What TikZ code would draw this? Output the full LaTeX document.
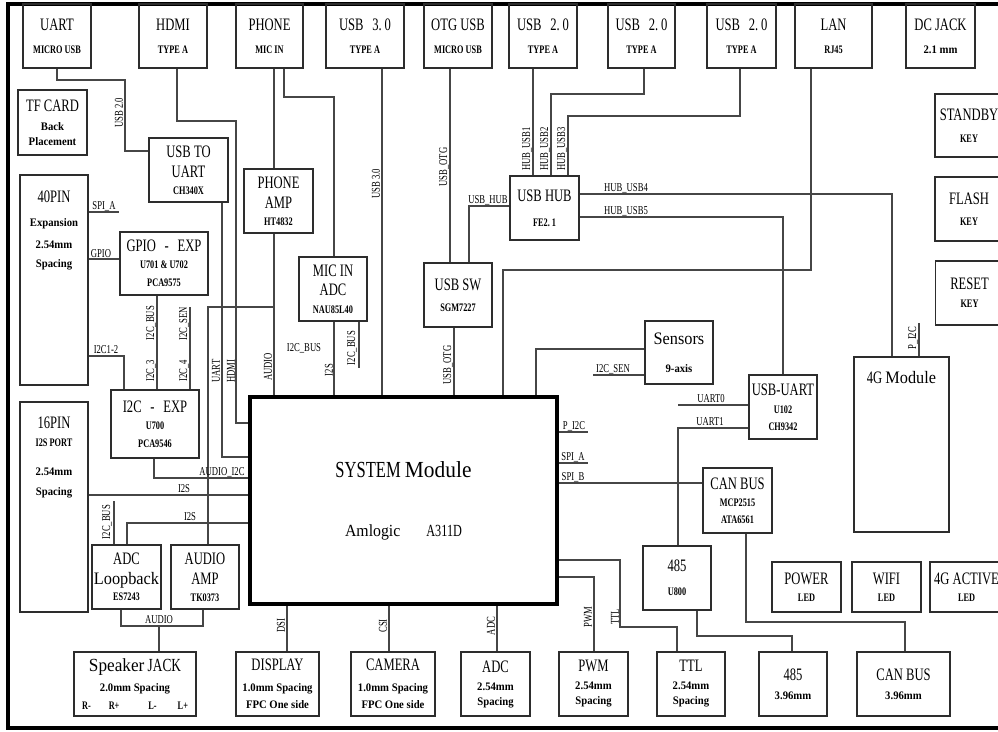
\documentclass[tikz,border=0pt]{standalone}
\usepackage{fontspec}
\setmainfont{Liberation Serif}[FakeStretch=0.72]
\newfontfamily\lcfont{Liberation Serif}[FakeStretch=0.93]
\usetikzlibrary{positioning}
\definecolor{edge}{RGB}{45,45,45}
\definecolor{wirec}{RGB}{70,70,70}
\newcommand\bigtxt{\fontsize{17.5}{19}\selectfont\mdseries}
\newcommand\smtxt{\fontsize{11.5}{13}\selectfont\bfseries}
\newcommand\lbltxt{\fontsize{12}{13}\selectfont}

\begin{document}
\begin{tikzpicture}[
  x=1pt, y=-1pt,
  blk/.style={draw=edge, line width=1.6pt, align=center, inner sep=1pt,
              font=\smtxt},
  topbox/.style={blk, minimum width=68pt, minimum height=64pt},
  midbox/.style={blk, minimum width=68pt, minimum height=64pt},
  ledbox/.style={blk, minimum width=69pt, minimum height=50pt},
  botbox/.style={blk, minimum width=69pt, minimum height=64pt},
  txt/.style={align=center, inner sep=1pt, font=\smtxt},
  lbl/.style={font=\lbltxt, inner sep=0.5pt},
  wire/.style={draw=wirec, line width=1.3pt}
]
\useasboundingbox (0,0) rectangle (998,731);
\clip (0,0) rectangle (998,731);
\fill[white] (0,0) rectangle (998,731);
\draw[line width=3.5pt] (8,4) rectangle (1010,728);

% top connectors
\node[topbox] (uart) at (57,36) {{\bigtxt UART}\\[10pt]MICRO USB};
\node[topbox] (hdmi) at (173,36) {{\bigtxt HDMI}\\[10pt]TYPE A};
\node[topbox, minimum width=67pt] (phone) at (269.5,36) {{\bigtxt PHONE}\\[10pt]MIC IN};
\node[topbox, minimum width=78pt] (usb30) at (365,36) {{\bigtxt USB\enspace3.\,0}\\[10pt]TYPE A};
\node[topbox] (otg) at (458,36) {{\bigtxt OTG USB}\\[10pt]MICRO USB};
\node[topbox] (usba) at (543,36) {{\bigtxt USB\enspace2.\,0}\\[10pt]TYPE A};
\node[topbox, minimum width=67pt] (usbb) at (641.5,36) {{\bigtxt USB\enspace2.\,0}\\[10pt]TYPE A};
\node[topbox, minimum width=69pt] (usbc) at (741.5,36) {{\bigtxt USB\enspace2.\,0}\\[10pt]TYPE A};
\node[topbox, minimum width=77pt] (lan) at (833.5,36) {{\bigtxt LAN}\\[10pt]RJ45};
\node[topbox, minimum width=69pt] (dcjack) at (940.5,36) {{\bigtxt DC JACK}\\[10pt]{\lcfont 2.1 mm}};

% keys
\node[midbox, minimum height=63pt] (standby) at (969,125.5) {{\bigtxt STANDBY}\\[9pt]KEY};
\node[midbox] (flash) at (969,209) {{\bigtxt FLASH}\\[8pt]KEY};
\node[midbox] (reset) at (969.5,293) {{\bigtxt RESET}\\[5pt]KEY};

% left side
\node[blk, minimum width=69pt, minimum height=65pt] (tfcard) at (52.5,122.5)
  {{\bigtxt TF CARD}\\[6pt]{\lcfont Back}\\[2pt]{\lcfont Placement}};
\node[blk, minimum width=68pt, minimum height=210pt] (pin40) at (54,280) {};
\node[txt, anchor=north] (pin40txt) at (54,190)
  {{\bigtxt 40PIN}\\[11pt]{\lcfont Expansion}\\[9pt]{\lcfont 2.54mm}\\[6pt]{\lcfont Spacing}};
\node[blk, minimum width=68pt, minimum height=210pt] (pin16) at (54,507) {};
\node[txt, anchor=north] (pin16txt) at (54,416)
  {{\bigtxt 16PIN}\\[5pt]I2S PORT\\[16pt]{\lcfont 2.54mm}\\[7pt]{\lcfont Spacing}};

\node[midbox, minimum width=79pt] (usbtouart) at (188.5,170)
  {{\bigtxt USB TO}\\[7pt]{\bigtxt UART}\\[4pt]CH340X};
\node[midbox, minimum width=69pt] (phoneamp) at (278.5,201)
  {{\bigtxt PHONE}\\[7pt]{\bigtxt AMP}\\[4pt]HT4832};
\node[midbox, minimum width=88pt, minimum height=63pt] (gpioexp) at (164,263.5)
  {{\bigtxt GPIO\enspace-\enspace EXP}\\[4pt]U701 \& U702\\[5pt]PCA9575};
\node[midbox, minimum width=88pt, minimum height=68pt] (i2cexp) at (155,424)
  {{\bigtxt I2C\enspace-\enspace EXP}\\[4pt]U700\\[5pt]PCA9546};
\node[midbox] (micadc) at (333,289)
  {{\bigtxt MIC IN}\\[6pt]{\bigtxt ADC}\\[5pt]NAU85L40};
\node[midbox] (usbsw) at (458,295) {{\bigtxt USB SW}\\[8pt]SGM7227};
\node[midbox, minimum width=69pt] (usbhub) at (544.5,208) {{\bigtxt USB HUB}\\[12pt]FE2.\,1};
\node[midbox, minimum height=63pt] (sensors) at (679,352.5)
  {{\bigtxt\lcfont Sensors}\\[15pt]{\lcfont 9-axis}};
\node[midbox] (chuart) at (783,407) {{\bigtxt USB-UART}\\[5pt]U102\\[4pt]CH9342};
\node[blk, minimum width=95pt, minimum height=175pt] (m4g) at (901.5,444.5) {};
\node[txt, anchor=north] (m4gtxt) at (901.5,370) {{\bigtxt 4G {\lcfont Module}}};
\node[midbox, minimum width=69pt, minimum height=65pt] (canctl) at (737.5,500.5)
  {{\bigtxt CAN BUS}\\[4pt]MCP2515\\[4pt]ATA6561};
\node[midbox] (rs485) at (677,578) {{\bigtxt 485}\\[11pt]U800};
\node[ledbox] (ledpwr) at (806.5,587) {{\bigtxt POWER}\\[4pt]LED};
\node[ledbox] (ledwifi) at (886.5,587) {{\bigtxt WIFI}\\[4pt]LED};
\node[ledbox, minimum width=73pt] (led4g) at (966.5,587) {{\bigtxt 4G ACTIVE}\\[4pt]LED};

\node[draw=black, line width=4pt, minimum width=307pt, minimum height=207pt,
      align=center, font=\fontsize{17}{18}\selectfont] (som) at (403.5,500.5)
  {{\fontsize{23}{24}\selectfont SYSTEM {\lcfont Module}}\\[41pt]%
   {\lcfont Amlogic}\hspace{26pt}A311D};

\node[midbox, minimum width=69pt] (adcloop) at (126.5,577)
  {{\bigtxt ADC}\\[7pt]{\bigtxt\lcfont Loopback}\\[3pt]ES7243};
\node[midbox] (audioamp) at (205,577)
  {{\bigtxt AUDIO}\\[7pt]{\bigtxt AMP}\\[4pt]TK0373};

% bottom connectors
\node[botbox, minimum width=122pt] (spkjack) at (135,684)
  {{\fontsize{18.5}{20}\selectfont\mdseries{\lcfont Speaker} JACK}\\[7pt]%
   {\lcfont 2.0mm Spacing}\\[5pt]%
   R-\hspace*{18pt}R+\hspace*{29pt}L-\hspace*{21pt}L+};
\node[botbox, minimum width=83pt] (display) at (277.5,684)
  {{\bigtxt DISPLAY}\\[8pt]{\lcfont 1.0mm Spacing}\\[4pt]{\lcfont FPC One side}};
\node[botbox, minimum width=84pt] (camera) at (393,684)
  {{\bigtxt CAMERA}\\[8pt]{\lcfont 1.0mm Spacing}\\[4pt]{\lcfont FPC One side}};
\node[botbox] (adcconn) at (495.5,684)
  {{\bigtxt ADC}\\[5pt]{\lcfont 2.54mm}\\[2pt]{\lcfont Spacing}};
\node[botbox] (pwmconn) at (593.5,684)
  {{\bigtxt PWM}\\[5pt]{\lcfont 2.54mm}\\[2pt]{\lcfont Spacing}};
\node[botbox, minimum width=68pt] (ttlconn) at (691,684)
  {{\bigtxt TTL}\\[5pt]{\lcfont 2.54mm}\\[2pt]{\lcfont Spacing}};
\node[botbox, minimum width=68pt] (conn485) at (793,684) {{\bigtxt 485}\\[6pt]{\lcfont 3.96mm}};
\node[botbox, minimum width=93pt] (canconn) at (903.5,684) {{\bigtxt CAN BUS}\\[6pt]{\lcfont 3.96mm}};

% free ends
\coordinate (audtap) at (274,307);
\coordinate (micbus) at (359,368);
\coordinate (sentap) at (593,375);
\coordinate (pi2c) at (588,432);
\coordinate (spia) at (588,463);
\coordinate (uart0) at (678,405);
\coordinate (audjct) at (159,626);
\coordinate (adcbus) at (114,501);
\coordinate (spi40) at (119,212);
\coordinate (i2csen) at (190,307);
\coordinate (m4gbus) at (919,323);

% wires
\draw[wire] (uart.south) -- (57,80) -- (125,80) |- (usbtouart.west |- 0,151);
\draw[wire] (hdmi.south -| 177,0) |- (236,121) |- (som.west |- 0,423);
\draw[wire] (usbtouart.south -| 222,0) |- (som.west |- 0,457);
\draw[wire] (phone.south -| 274,0) -- (phoneamp.north -| 274,0);
\draw[wire] (phone.south -| 284,0) |- (334,97) -- (micadc.north -| 334,0);
\draw[wire] (phoneamp.south -| 274,0) -- (som.north -| 274,0);
\draw[wire] (audioamp.north -| 208,0) |- (audtap);
\draw[wire] (micadc.south -| 334,0) -- (som.north -| 334,0);
\draw[wire] (micadc.south -| 359,0) -- (micbus);
\draw[wire] (usb30.south -| 382,0) -- (som.north -| 382,0);
\draw[wire] (otg.south -| 450,0) -- (usbsw.north -| 450,0);
\draw[wire] (usbsw.north -| 469,0) |- (usbhub.west |- 0,206);
\draw[wire] (usbsw.south -| 454,0) -- (som.north -| 454,0);
\draw[wire] (usbhub.north -| 533,0) -- (usba.south -| 533,0);
\draw[wire] (usbhub.north -| 551,0) |- (644,94) -- (usbb.south -| 644,0);
\draw[wire] (usbhub.north -| 568,0) |- (740,116) -- (usbc.south -| 740,0);
\draw[wire] (usbhub.east |- 0,194) -| (m4g.north -| 892,0);
\draw[wire] (usbhub.east |- 0,217) -| (chuart.north -| 783,0);
\draw[wire] (lan.south -| 811,0) |- (503,270) -- (som.north -| 503,0);
\draw[wire] (sensors.west |- 0,349) -| (som.north -| 536,0);
\draw[wire] (sensors.west |- 0,375) -- (sentap);
\draw[wire] (som.east |- 0,432) -- (pi2c);
\draw[wire] (som.east |- 0,463) -- (spia);
\draw[wire] (som.east |- 0,483) -- (canctl.west |- 0,483);
\draw[wire] (chuart.west |- 0,405) -- (uart0);
\draw[wire] (chuart.west |- 0,428) -| (rs485.north -| 678,0);
\draw[wire] (canctl.south -| 746,0) |- (905,622) -- (canconn.north -| 905,0);
\draw[wire] (rs485.south -| 697,0) |- (792,636) -- (conn485.north -| 792,0);
\draw[wire] (som.east |- 0,560) -| (620,627) -| (ttlconn.north -| 677,0);
\draw[wire] (som.east |- 0,577) -| (pwmconn.north -| 594,0);
\draw[wire] (som.south -| 287,0) -- (display.north -| 287,0);
\draw[wire] (som.south -| 389,0) -- (camera.north -| 389,0);
\draw[wire] (som.south -| 497,0) -- (adcconn.north -| 497,0);
\draw[wire] (adcloop.south -| 121,0) |- (203,626) -- (audioamp.south -| 203,0);
\draw[wire] (audjct) -- (spkjack.north -| 159,0);
\draw[wire] (pin16.east |- 0,495) -- (som.west |- 0,495);
\draw[wire] (som.west |- 0,523) -| (adcloop.north -| 127,0);
\draw[wire] (adcloop.north -| 114,0) -- (adcbus);
\draw[wire] (pin40.east |- 0,212) -- (spi40);
\draw[wire] (pin40.east |- 0,259) -- (gpioexp.west |- 0,259);
\draw[wire] (pin40.east |- 0,356) -| (i2cexp.north -| 124,0);
\draw[wire] (gpioexp.south -| 157,0) -- (i2cexp.north -| 157,0);
\draw[wire] (i2cexp.north -| 190,0) -- (i2csen);
\draw[wire] (i2cexp.south -| 154,0) |- (som.west |- 0,478);
\draw[wire] (m4g.north -| 919,0) -- (m4gbus);

% wire labels
\node[lbl, rotate=90] (l-usb20) at (119,113) {USB 2.0};
\node[lbl] (l-spia40) at (104,206) {SPI\_A};
\node[lbl] (l-gpio) at (101,254) {GPIO};
\node[lbl] (l-i2c12) at (106,350) {I2C1-2};
\node[lbl, rotate=90] (l-i2cbus1) at (151,323) {I2C\_BUS};
\node[lbl, rotate=90] (l-i2c3) at (151,371) {I2C\_3};
\node[lbl, rotate=90] (l-i2csen1) at (184,324) {I2C\_SEN};
\node[lbl, rotate=90] (l-i2c4) at (184,371) {I2C\_4};
\node[lbl, rotate=90] (l-uart) at (216,371) {UART};
\node[lbl, rotate=90] (l-hdmi) at (231,371) {HDMI};
\node[lbl, rotate=90] (l-audio1) at (268,367) {AUDIO};
\node[lbl] (l-i2cbus2) at (304,348) {I2C\_BUS};
\node[lbl, rotate=90] (l-i2s1) at (329,370) {I2S};
\node[lbl, rotate=90] (l-i2cbus3) at (352,348) {I2C\_BUS};
\node[lbl, rotate=90] (l-usb30) at (376,184) {USB 3.0};
\node[lbl, rotate=90] (l-otg1) at (444,167) {USB\_OTG};
\node[lbl, rotate=90] (l-otg2) at (448,365) {USB\_OTG};
\node[lbl] (l-usbhub) at (488,200) {USB\_HUB};
\node[lbl, rotate=90] (l-hub1) at (527,149) {HUB\_USB1};
\node[lbl, rotate=90] (l-hub2) at (545,149) {HUB\_USB2};
\node[lbl, rotate=90] (l-hub3) at (562,149) {HUB\_USB3};
\node[lbl] (l-hub4) at (626,188) {HUB\_USB4};
\node[lbl] (l-hub5) at (626,211) {HUB\_USB5};
\node[lbl] (l-i2csen2) at (613,369) {I2C\_SEN};
\node[lbl] (l-pi2c1) at (574,426) {P\_I2C};
\node[lbl] (l-spia) at (573,457) {SPI\_A};
\node[lbl] (l-spib) at (573,477) {SPI\_B};
\node[lbl] (l-uart0) at (711,399) {UART0};
\node[lbl] (l-uart1) at (710,422) {UART1};
\node[lbl] (l-audi2c) at (222,472) {AUDIO\_I2C};
\node[lbl] (l-i2s2) at (184,489) {I2S};
\node[lbl] (l-i2s3) at (190,517) {I2S};
\node[lbl, rotate=90] (l-i2cbus4) at (107,522) {I2C\_BUS};
\node[lbl] (l-audio2) at (159,620) {AUDIO};
\node[lbl, rotate=90] (l-dsi) at (281,626) {DSI};
\node[lbl, rotate=90] (l-csi) at (383,626) {CSI};
\node[lbl, rotate=90] (l-adc) at (491,626) {ADC};
\node[lbl, rotate=90] (l-pwm) at (588,617) {PWM};
\node[lbl, rotate=90] (l-ttl) at (615,617) {TTL};
\node[lbl, rotate=90] (l-pi2c2) at (913,338) {P\_I2C};

\end{tikzpicture}
\end{document}
